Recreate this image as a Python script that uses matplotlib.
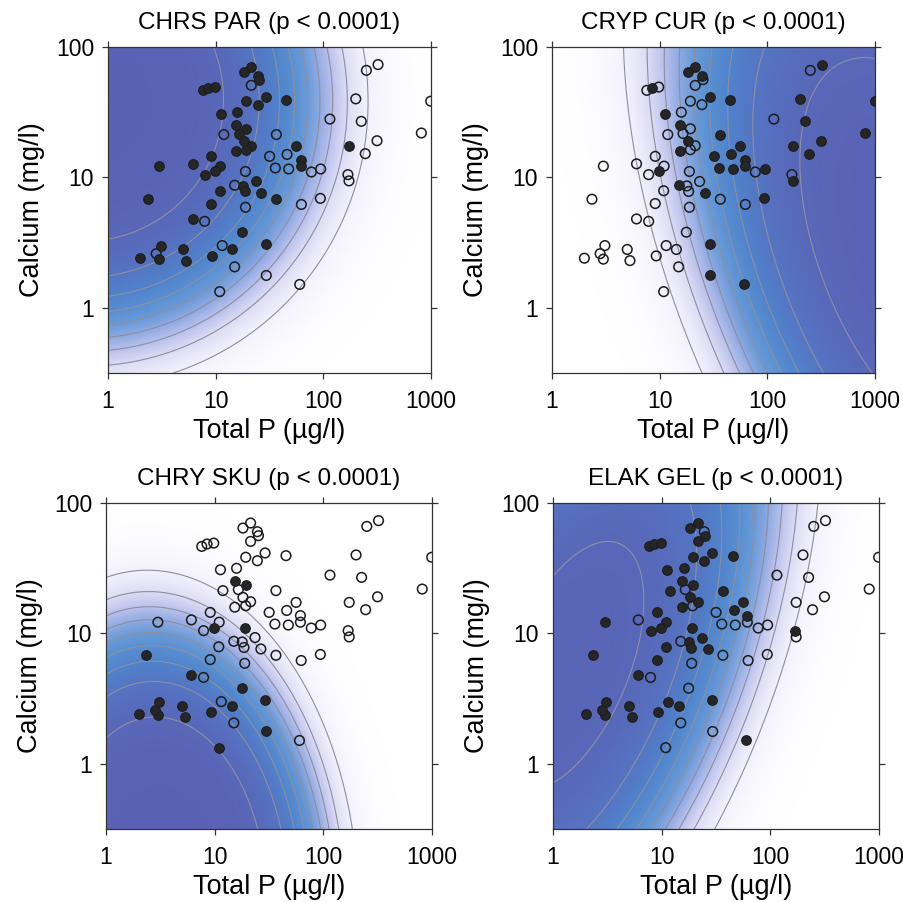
import numpy as np
import matplotlib.pyplot as plt
from matplotlib.colors import LinearSegmentedColormap
from matplotlib.ticker import FixedLocator, FuncFormatter, NullLocator

# Lakes: total P (ug/l) and calcium (mg/l)
total_p = [21.4, 18.2, 24.7, 25.3, 7.6, 8.5, 9.8, 19.3, 29.1, 24.7,
           45.3, 11.3, 15.9, 15.3, 19.3, 16.5, 21.4, 19.3, 15.3, 56.1,
           173, 9.1, 61.5, 61.5, 3.0, 6.1, 11.0, 9.8, 7.9, 23.5,
           17.9, 18.6, 10.9, 26.6, 2.35, 9.1, 36.6, 6.1, 17.7, 29.1,
           3.1, 5.0, 14.3, 2.0, 3.0, 5.3, 9.3,
           322, 251, 21.4, 200, 993, 115, 225, 11.9, 36.6, 813,
           315, 18.2, 31.7, 46.0, 245, 35.8, 47.6, 18.9, 77.4, 94.4,
           169, 173, 15.0, 18.9, 62.5, 93.8, 7.9, 11.5, 2.8, 15.0,
           29.5, 60.3, 10.9]
calcium = [70.3, 64.3, 60.3, 56.2, 46.5, 48.5, 49.3, 38.4, 41.4, 36.1,
           39.5, 30.8, 31.6, 25.4, 23.6, 21.7, 17.5, 16.3, 15.9, 17.3,
           17.3, 14.5, 13.7, 12.2, 12.2, 12.7, 12.2, 11.1, 10.5, 9.3,
           8.6, 7.8, 7.9, 7.6, 6.8, 6.3, 6.8, 4.8, 3.8, 3.1,
           3.0, 2.8, 2.8, 2.4, 2.36, 2.3, 2.5,
           73.3, 66.2, 50.8, 40.0, 38.4, 28.0, 26.9, 21.3, 21.3, 21.9,
           19.1, 18.9, 14.5, 15.0, 15.2, 11.8, 11.6, 11.1, 11.0, 11.6,
           10.5, 9.4, 8.7, 5.9, 6.2, 6.9, 4.6, 3.0, 2.6, 2.06,
           1.77, 1.51, 1.33]

# presence (1) / absence (0) of each taxon in the same lakes
present_chrs_par = [1] * 47 + [0, 0, 0, 0, 0, 0, 0, 0, 0, 0,
                               0, 1, 0, 0, 0, 0, 0, 0, 0, 0,
                               0, 0, 0, 0, 0, 0, 0, 0, 0, 0,
                               0, 0, 0]
present_cryp_cur = [1, 1, 1, 0, 0, 1, 0, 0, 1, 0,
                    1, 1, 0, 1, 0, 0, 0, 0, 1, 1,
                    1, 0, 1, 1, 0, 0, 0, 1, 0, 0,
                    0, 0, 0, 1, 0, 0, 0, 0, 0, 1,
                    0, 0, 0, 0, 0, 0, 0,
                    1, 0, 0, 1, 1, 0, 1, 0, 1, 1,
                    1, 1, 1, 1, 1, 1, 1, 0, 0, 1,
                    0, 1, 1, 0, 0, 1, 0, 0, 0, 0,
                    1, 1, 0]
present_chry_sku = [0, 0, 0, 0, 0, 0, 0, 0, 0, 0,
                    0, 0, 0, 1, 1, 0, 0, 0, 0, 0,
                    0, 0, 0, 0, 0, 0, 0, 1, 0, 0,
                    0, 0, 0, 0, 1, 0, 0, 1, 1, 1,
                    1, 1, 1, 1, 1, 1, 1,
                    0, 0, 0, 0, 0, 0, 0, 0, 0, 0,
                    0, 0, 0, 0, 0, 0, 0, 1, 0, 0,
                    0, 0, 0, 0, 0, 0, 0, 0, 1, 0,
                    1, 0, 1]
present_elak_gel = [1, 1, 0, 1, 1, 1, 1, 1, 1, 1,
                    1, 1, 1, 1, 1, 0, 1, 0, 1, 1,
                    0, 1, 1, 0, 1, 0, 1, 1, 1, 1,
                    1, 1, 1, 1, 1, 1, 0, 1, 0, 1,
                    1, 1, 1, 1, 1, 1, 1,
                    0, 0, 1, 0, 0, 0, 0, 1, 1, 0,
                    0, 1, 0, 1, 0, 0, 0, 1, 0, 0,
                    1, 0, 0, 0, 0, 0, 0, 1, 1, 0,
                    0, 1, 0]

taxa = ['CHRS PAR', 'CRYP CUR', 'CHRY SKU', 'ELAK GEL']
p_values = ['p < 0.0001', 'p < 0.0001', 'p < 0.0001', 'p < 0.0001']
presence = [present_chrs_par, present_cryp_cur, present_chry_sku,
            present_elak_gel]

# logit response surfaces, terms: 1, logP, logCa, logP^2, logCa^2, logP*logCa
coef_chrs_par = [0.521, -0.367, 3.811, -0.823, -1.188, -0.023]
coef_cryp_cur = [-8.304, 6.308, 2.577, -0.879, -0.504, -0.627]
coef_chry_sku = [2.588, 1.813, -1.785, -1.905, -1.094, -0.242]
coef_elak_gel = [2.334, -0.342, 0.837, -1.238, -0.648, 0.939]
coefs = [coef_chrs_par, coef_cryp_cur, coef_chry_sku, coef_elak_gel]

contour_levels = [0.1, 0.2, 0.3, 0.4, 0.5, 0.6, 0.7, 0.8, 0.9]
x_ticks = [1, 10, 100, 1000]
y_ticks = [1, 10, 100]

surface_colors = ['#ffffff', '#f3f1fc', '#dcdcf4', '#b9c1ec', '#8faae2',
                  '#6b9bd8', '#5a90d2', '#5084cc', '#5476c3', '#5868b9',
                  '#5a5eb2']
surface_cmap = LinearSegmentedColormap.from_list('prob', surface_colors)


def predict(beta, x, y):
    """Probability of occurrence from the quadratic logit model."""
    terms = [np.ones_like(x), x, y, x**2, y**2, x * y]
    eta = sum(b * t for b, t in zip(beta, terms))
    return 1.0 / (1.0 + np.exp(-eta))


gx, gy = np.meshgrid(np.linspace(0, 3, 361), np.linspace(-0.5, 2, 301))
tp = np.array(total_p)
ca = np.array(calcium)

plt.rcParams['font.family'] = ['Liberation Sans', 'DejaVu Sans']

fig = plt.figure(figsize=(9.04, 9.02), dpi=100)
axes_pos = [[0.1195, 0.5865, 0.3573, 0.3614],
            [0.6106, 0.5865, 0.3573, 0.3614],
            [0.1173, 0.0809, 0.3606, 0.3614],
            [0.6117, 0.0809, 0.3606, 0.3614]]

for pos, name, pv, pres, beta in zip(axes_pos, taxa, p_values, presence,
                                     coefs):
    ax = fig.add_axes(pos)
    found = np.array(pres) == 1
    prob = predict(beta, gx, gy)

    ax.pcolormesh(10**gx, 10**gy, prob, cmap=surface_cmap, vmin=0, vmax=1,
                  shading='gouraud', rasterized=True)
    ax.contour(10**gx, 10**gy, prob, levels=contour_levels,
               colors='#8e8ea0', linewidths=0.8)

    ax.scatter(tp[~found], ca[~found], s=48, facecolors='none',
               edgecolors='#1c1c1c', linewidths=1.1, zorder=3)
    ax.scatter(tp[found], ca[found], s=48, facecolors='#262626',
               edgecolors='#1c1c1c', linewidths=0.8, zorder=4)

    ax.set_xscale('log')
    ax.set_yscale('log')
    ax.set_xlim(1, 1000)
    ax.set_ylim(10**-0.5, 100)
    ax.xaxis.set_major_locator(FixedLocator(x_ticks))
    ax.yaxis.set_major_locator(FixedLocator(y_ticks))
    ax.xaxis.set_minor_locator(NullLocator())
    ax.yaxis.set_minor_locator(NullLocator())
    fmt = FuncFormatter(lambda v, _: '{:g}'.format(v))
    ax.xaxis.set_major_formatter(fmt)
    ax.yaxis.set_major_formatter(fmt)
    ax.tick_params(which='both', direction='out', length=4, width=0.9,
                   top=True, right=True, labelsize=16.5, color='#333333')
    ax.tick_params(axis='x', pad=8)
    ax.tick_params(axis='y', pad=6)
    for sp in ax.spines.values():
        sp.set_linewidth(0.9)
        sp.set_color('#333333')

    ax.set_xlabel('Total P (µg/l)', fontsize=19.5, labelpad=4)
    ax.set_ylabel('Calcium (mg/l)', fontsize=19.5, labelpad=8)
    ax.set_title('{} ({})'.format(name, pv), fontsize=17.5, pad=13)

fig.savefig('out.png', dpi=100)
